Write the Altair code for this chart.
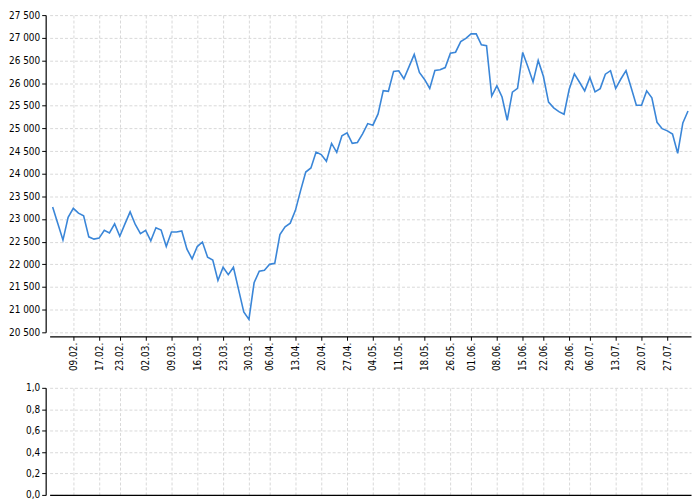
import altair as alt
import pandas as pd

# Daily closing values (trading days)
values = [
    23264, 22900, 22536, 23036, 23236, 23129, 23071, 22607, 22557, 22579,
    22750, 22693, 22893, 22621, 22893, 23157, 22879, 22679, 22750, 22521,
    22807, 22757, 22393, 22714, 22714, 22736, 22336, 22121, 22393, 22493,
    22157, 22093, 21643, 21936, 21771, 21936, 21443, 20950, 20786, 21593,
    21850, 21871, 22000, 22021, 22657, 22830, 22909, 23191, 23627, 24036,
    24127, 24479, 24423, 24275, 24669, 24472, 24838, 24902, 24669, 24690,
    24880, 25106, 25071, 25320, 25834, 25819, 26258, 26272, 26095, 26364,
    26632, 26236, 26081, 25883, 26279, 26293, 26342, 26661, 26682, 26915,
    26986, 27085, 27085, 26844, 26823, 25713, 25939, 25692, 25180, 25800,
    25885, 26677, 26359, 26026, 26500, 26150, 25581, 25454, 25369, 25312,
    25864, 26203, 26019, 25828, 26125, 25807, 25878, 26196, 26274, 25880,
    26090, 26274, 25899, 25510, 25510, 25828, 25673, 25135, 24994, 24945,
    24874, 24450, 25121, 25383,
]

# Trading-day positions of the date ticks and their labels
tick_index = [4, 9, 13, 18, 23, 28, 33, 38, 42, 47, 52, 57, 62, 67, 72,
              77, 81, 86, 91, 95, 100, 104, 109, 114, 119]
tick_labels = ["09.02.", "17.02.", "23.02.", "02.03.", "09.03.", "16.03.",
               "23.03.", "30.03.", "06.04.", "13.04.", "20.04.", "27.04.",
               "04.05.", "11.05.", "18.05.", "26.05.", "01.06.", "08.06.",
               "15.06.", "22.06.", "29.06.", "06.07.", "13.07.", "20.07.",
               "27.07."]
y_ticks = list(range(20500, 28000, 500))
y2_ticks = [0, 0.2, 0.4, 0.6, 0.8, 1.0]

df = pd.DataFrame({"i": list(range(len(values))), "v": values})

n = len(values)
x_domain = [-0.58, n - 1 + 0.58]

label_expr_x = "[" + ",".join("'%s'" % s for s in tick_labels) + "][indexof([" + \
    ",".join(str(t) for t in tick_index) + "], datum.value)]"

FONT = "DejaVu Sans Condensed, DejaVu Sans"
W = 647
EXT = 32

x_top = alt.X(
    "i:Q",
    scale=alt.Scale(domain=x_domain, nice=False, zero=False),
    axis=alt.Axis(
        values=tick_index, labelExpr=label_expr_x, labelAngle=-90,
        title=None, offset=4, tickSize=4, labelPadding=2, grid=True,
    ),
)
y_top = alt.Y(
    "v:Q",
    scale=alt.Scale(domain=[20500, 27500], nice=False, zero=False),
    axis=alt.Axis(
        values=y_ticks, labelExpr="replace(format(datum.value, ','), ',', ' ')",
        title=None, offset=4, tickSize=4, labelPadding=2, grid=True,
        minExtent=EXT, maxExtent=EXT,
    ),
)

top = alt.Chart(df).mark_line(color="#3a86d8", strokeWidth=1.6).encode(
    x=x_top, y=y_top
).properties(width=W, height=320)

bottom = alt.Chart(df).transform_calculate(z="0").mark_point(opacity=0).encode(
    x=alt.X(
        "i:Q",
        scale=alt.Scale(domain=x_domain, nice=False, zero=False),
        axis=alt.Axis(values=tick_index, labels=False, ticks=False,
                      title=None, grid=True, offset=0),
    ),
    y=alt.Y(
        "z:Q",
        scale=alt.Scale(domain=[0, 1], nice=False, zero=False),
        axis=alt.Axis(values=y2_ticks,
                      labelExpr="replace(format(datum.value, '.1f'), '.', ',')",
                      title=None, offset=4, tickSize=4, labelPadding=2,
                      grid=True, minExtent=EXT, maxExtent=EXT),
    ),
).properties(width=W, height=108)

chart = alt.vconcat(top, bottom, spacing=12).configure_view(
    stroke=None
).configure_axis(
    labelFont=FONT, labelFontSize=10, labelColor="#000000",
    domainColor="#000000", domainWidth=1.2, tickColor="#000000", tickWidth=1,
    gridColor="#d9d9d9", gridDash=[3, 2], gridWidth=1,
).properties(padding={"left": 0, "top": 0, "right": 0, "bottom": 0})

chart.save("out.html", embed_options={"renderer": "svg", "actions": False})
